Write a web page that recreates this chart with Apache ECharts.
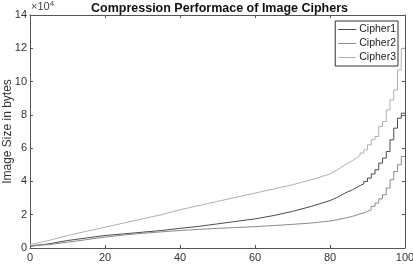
<!DOCTYPE html>
<html>
<head>
<meta charset="utf-8">
<script src="https://cdn.jsdelivr.net/npm/echarts@6/dist/echarts.min.js"></script>
<style>
  html, body { margin: 0; padding: 0; background: #fff; }
  #chart { width: 413px; height: 264px; }
</style>
</head>
<body>
<div id="chart"></div>
<script>
const FONT = 'Liberation Sans, Arial, sans-serif';
const AXIS_COLOR = '#555';

// smooth part: percentile of images vs image size in bytes
const xSmooth = [0, 5, 10, 15, 20, 25, 30, 35, 40, 45, 50, 55, 60, 65, 70, 75, 80, 82, 84, 86, 88];
const cipher1Smooth = [1000, 2500, 4500, 6000, 7500, 8500, 9500, 10500, 11800, 13000, 14500, 16000, 17500, 19500, 22000, 25000, 28500, 30500, 33000, 35000, 37500];
const cipher2Smooth = [1500, 2000, 3500, 5000, 6500, 7800, 8800, 9700, 10500, 11200, 11800, 12300, 12800, 13500, 14200, 15000, 16200, 17000, 18000, 19000, 20500];
const cipher3Smooth = [2000, 4500, 7500, 10000, 12500, 15000, 17500, 20000, 23000, 25500, 28000, 30500, 33000, 35500, 38000, 41000, 44500, 47000, 50000, 52500, 55500];

// stair part at the top end
const xTail = [88, 89, 90, 91, 92, 93, 94, 95, 96, 97, 98, 99, 100];
const cipher1Tail = [37500, 38500, 40000, 42000, 44500, 47000, 51000, 54000, 58000, 65000, 72000, 78000, 81000];
const cipher2Tail = [20500, 21000, 22000, 23000, 25000, 27000, 29500, 32000, 36000, 41000, 46000, 50000, 55000];
const cipher3Tail = [55500, 57000, 59000, 62000, 65000, 67000, 73000, 76000, 83000, 89000, 95000, 107000, 120000];

const seriesNames = ['Cipher1', 'Cipher2', 'Cipher3'];
const seriesColors = ['#4a4a4a', '#8a8a8a', '#b0b0b0'];
const smoothValues = [cipher1Smooth, cipher2Smooth, cipher3Smooth];
const tailValues = [cipher1Tail, cipher2Tail, cipher3Tail];

function pairs(xs, values) {
  return xs.map(function (x, i) { return [x, values[i]]; });
}

var chartDom = document.getElementById('chart');
var chart = echarts.init(chartDom, null, { renderer: 'canvas' });

var axisCommon = {
  axisLine: { show: true, onZero: false, lineStyle: { color: AXIS_COLOR, width: 1 } },
  axisTick: { show: true, inside: true, length: 3, lineStyle: { color: AXIS_COLOR } },
  splitLine: { show: false }
};

var series = [];
seriesNames.forEach(function (name, i) {
  series.push({
    name: name,
    type: 'line',
    showSymbol: false,
    symbol: 'none',
    color: seriesColors[i],
    lineStyle: { width: 1, color: seriesColors[i] },
    data: pairs(xSmooth, smoothValues[i])
  });
  series.push({
    name: name,
    type: 'line',
    step: 'start',
    showSymbol: false,
    symbol: 'none',
    color: seriesColors[i],
    lineStyle: { width: 1, color: seriesColors[i] },
    data: pairs(xTail, tailValues[i])
  });
});

option = {
  animation: false,
  backgroundColor: '#fff',
  textStyle: { fontFamily: FONT },
  title: {
    text: 'Compression Performace of Image Ciphers',
    left: 86,
    top: -3,
    textStyle: { fontFamily: FONT, fontSize: 12.5, fontWeight: 'bold', color: '#111' }
  },
  graphic: [
    {
      type: 'text',
      left: 31,
      top: 0,
      style: {
        text: '×10{sup|4}',
        fontFamily: FONT,
        fontSize: 11,
        fill: '#444',
        rich: { sup: { fontSize: 8, verticalAlign: 'top', padding: [0, 0, 6, 0], fontFamily: FONT, fill: '#444' } }
      }
    }
  ],
  legend: {
    data: seriesNames,
    orient: 'vertical',
    right: 15,
    top: 21,
    icon: 'rect',
    itemWidth: 18,
    itemHeight: 1,
    itemGap: 3,
    padding: [3, 2, 3, 3],
    backgroundColor: '#fff',
    borderColor: '#333',
    borderWidth: 1,
    borderRadius: 0,
    textStyle: { fontFamily: FONT, fontSize: 10.5, color: '#222', padding: [0, 0, 0, -2] }
  },
  grid: { left: 30, right: 8, top: 15, bottom: 16, outerBoundsMode: 'none' },
  xAxis: [
    Object.assign({}, axisCommon, {
      type: 'value',
      min: 0,
      max: 100,
      interval: 20,
      position: 'bottom',
      axisLabel: { color: '#333', fontSize: 11, margin: 4, fontFamily: FONT }
    }),
    Object.assign({}, axisCommon, {
      type: 'value',
      min: 0,
      max: 100,
      interval: 20,
      position: 'top',
      axisLabel: { show: false }
    })
  ],
  yAxis: [
    Object.assign({}, axisCommon, {
      type: 'value',
      min: 0,
      max: 140000,
      interval: 20000,
      position: 'left',
      name: 'Image Size in bytes',
      nameLocation: 'middle',
      nameGap: 16,
      nameMoveOverlap: false,
      nameTextStyle: { fontFamily: FONT, fontSize: 12, color: '#333' },
      axisLabel: {
        color: '#333', fontSize: 11, margin: 3, fontFamily: FONT,
        formatter: function (v) { return v / 10000; }
      }
    }),
    Object.assign({}, axisCommon, {
      type: 'value',
      min: 0,
      max: 140000,
      interval: 20000,
      position: 'right',
      axisLabel: { show: false }
    })
  ],
  series: series
};

chart.setOption(option);
</script>
</body>
</html>
